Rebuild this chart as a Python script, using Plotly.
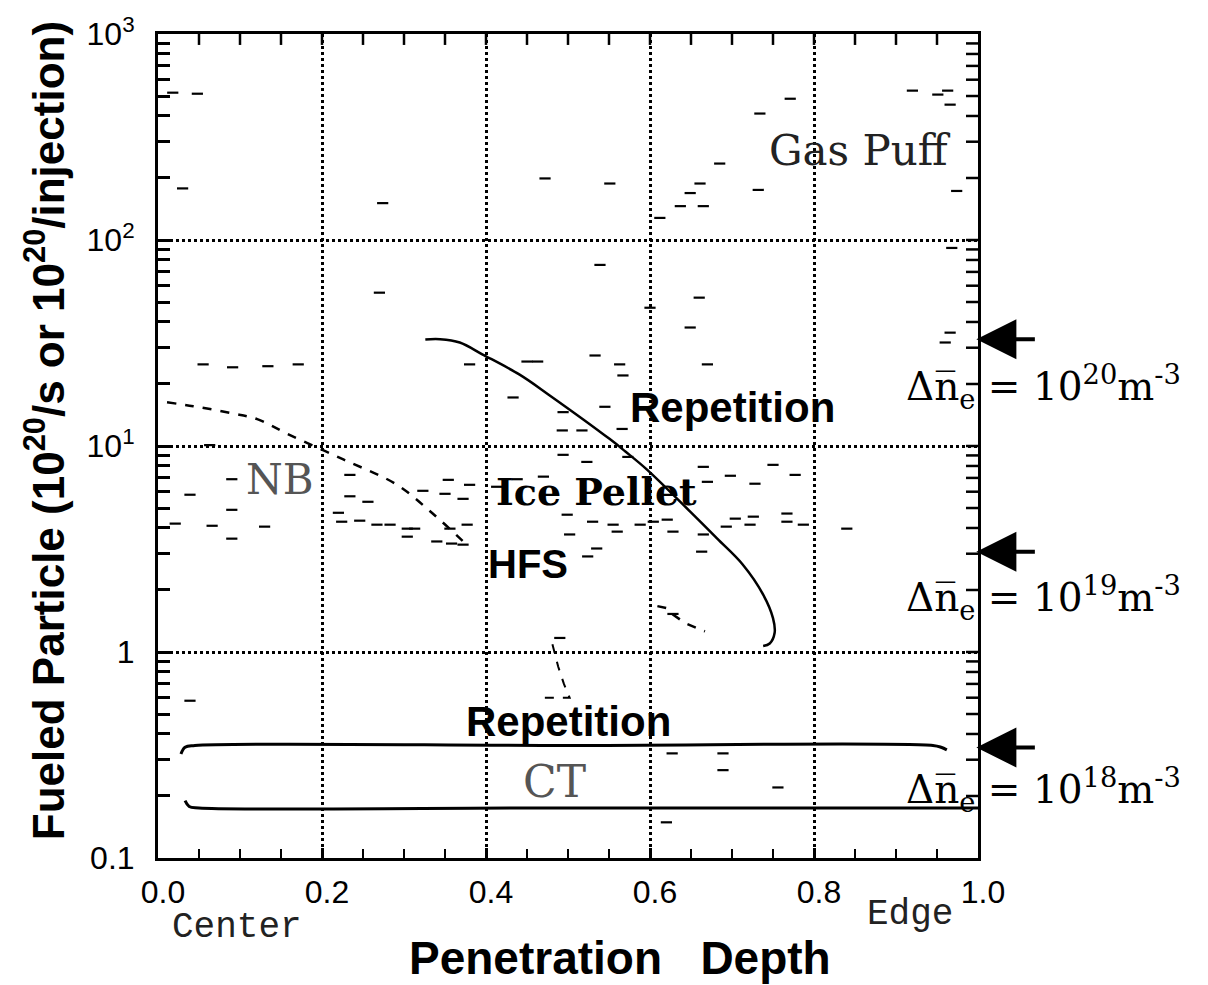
import math
import plotly.graph_objects as go

# ---------------- data ----------------
rep_x = [0.326, 0.344, 0.368, 0.396, 0.441, 0.476, 0.551, 0.570, 0.596, 0.649, 0.682, 0.713, 0.738, 0.750, 0.752, 0.746, 0.738]
rep_y = [32.9, 33.0, 31.8, 27.8, 22.2, 17.8, 10.8, 9.4, 7.7, 4.8, 3.55, 2.66, 1.9, 1.46, 1.24, 1.10, 1.07]

nb_x = [0.011, 0.043, 0.091, 0.121, 0.161, 0.226, 0.291, 0.335, 0.377]
nb_y = [16.3, 15.6, 14.4, 13.5, 11.3, 8.6, 6.5, 4.7, 3.3]

hfs_x = [0.609, 0.621, 0.627, 0.643, 0.667]
hfs_y = [1.67, 1.63, 1.53, 1.38, 1.26]

hfsrep_x = [0.481, 0.488, 0.495, 0.502, 0.461]
hfsrep_y = [1.09, 0.85, 0.70, 0.60, 0.60]

ct_top_x = [0.028, 0.033, 0.045, 0.50, 0.945, 0.955, 0.962]
ct_top_y = [0.32, 0.345, 0.352, 0.352, 0.352, 0.345, 0.335]
ct_bot_x = [0.033, 0.038, 0.050, 0.50, 1.0]
ct_bot_y = [0.19, 0.178, 0.175, 0.175, 0.175]

noise_x = [0.090, 0.039, 0.090, 0.021, 0.066, 0.130, 0.090, 0.055, 0.091, 0.134, 0.171, 0.063,
           0.234, 0.256, 0.234, 0.220, 0.224, 0.246, 0.267, 0.283, 0.304, 0.313, 0.304, 0.323,
           0.350, 0.354, 0.380, 0.372, 0.340, 0.358, 0.372, 0.356, 0.377, 0.380, 0.450, 0.463,
           0.433, 0.413, 0.438, 0.470, 0.533, 0.563, 0.567, 0.670, 0.545, 0.494, 0.493, 0.517,
           0.566, 0.494, 0.523, 0.573, 0.665, 0.698, 0.728, 0.750, 0.777, 0.670, 0.704, 0.726,
           0.722, 0.693, 0.767, 0.767, 0.787, 0.840, 0.665, 0.663, 0.524, 0.535, 0.502, 0.530,
           0.499, 0.628, 0.621, 0.604, 0.588, 0.560, 0.555, 0.490,
           0.018, 0.048, 0.920, 0.951, 0.963, 0.966, 0.030, 0.274, 0.472, 0.551, 0.612, 0.637,
           0.649, 0.661, 0.685, 0.734, 0.771, 0.539, 0.270, 0.660, 0.600, 0.649, 0.960, 0.966,
           0.732, 0.665, 0.974, 0.968,
           0.627, 0.689, 0.689, 0.756, 0.620, 0.628, 0.039]
noise_y = [6.9, 5.8, 4.9, 4.2, 4.1, 4.06, 3.55, 24.9, 24.1, 24.4, 24.9, 10.1,
           7.24, 5.36, 5.7, 4.74, 4.29, 4.34, 4.15, 4.15, 3.97, 3.97, 3.63, 6.06,
           5.86, 6.85, 6.48, 5.54, 3.44, 3.36, 3.32, 3.97, 4.15, 24.9, 25.7, 25.7,
           17.2, 6.34, 6.9, 7.1, 27.5, 24.9, 22.0, 24.9, 15.5, 14.6, 11.9, 11.9,
           12.1, 9.06, 8.37, 8.85, 7.92, 7.17, 6.56, 8.1, 7.24, 6.7, 4.44, 4.54,
           4.15, 4.06, 4.7, 4.29, 4.15, 3.97, 3.72, 3.07, 2.91, 3.18, 3.72, 4.29,
           4.64, 3.84, 4.39, 4.29, 4.15, 3.84, 4.15, 1.17,
           519, 513, 531, 508, 531, 454, 178, 151, 199, 188, 128, 146,
           169, 188, 235, 411, 485, 75.7, 55.5, 52.5, 46.9, 37.6, 31.8, 35.5,
           175, 146, 173, 91.5,
           0.322, 0.322, 0.267, 0.22, 0.149, 1.53, 0.58]

x_tickvals = [0.0, 0.2, 0.4, 0.6, 0.8, 1.0]
x_ticktext = ["0.0", "0.2", "0.4", "0.6", "0.8", "1.0"]
y_tickvals = [0.1, 1, 10, 100, 1000]
y_ticktext = ["0.1", "1", "10<sup>1</sup>", "10<sup>2</sup>", "10<sup>3</sup>"]

# in-plot labels: (text, x, y, font family, size, color)
labels = [
    ("Gas Puff", 0.856, 272, "DejaVu Serif", 42, "#222"),
    ("<b>Repetition</b>", 0.701, 15.4, "Liberation Sans", 42, "black"),
    ("<b>Ice Pellet</b>", 0.535, 6.0, "DejaVu Serif", 38, "black"),
    ("<b>HFS</b>", 0.451, 2.66, "Liberation Sans", 40, "black"),
    ("NB", 0.149, 6.85, "DejaVu Serif", 42, "#555"),
    ("<b>Repetition</b>", 0.500, 0.46, "Liberation Sans", 42, "black"),
    ("CT", 0.484, 0.235, "DejaVu Serif", 44, "#555"),
]

# density markers on the right: (arrow y, label y, exponent)
dens_arrow_y = [33.0, 3.07, 0.344]
dens_label_y = [19.3, 1.82, 0.213]
dens_exp = ["20", "19", "18"]

# ---------------- figure ----------------
fig = go.Figure()

fig.add_trace(go.Scatter(x=rep_x, y=rep_y, mode="lines", line=dict(color="black", width=2.5, shape="spline"), hoverinfo="skip"))
fig.add_trace(go.Scatter(x=nb_x, y=nb_y, mode="lines", line=dict(color="black", width=2.5, dash="dash", shape="spline"), hoverinfo="skip"))
fig.add_trace(go.Scatter(x=hfs_x, y=hfs_y, mode="lines", line=dict(color="black", width=2.5, dash="dash"), hoverinfo="skip"))
fig.add_trace(go.Scatter(x=hfsrep_x, y=hfsrep_y, mode="lines", line=dict(color="black", width=2, dash="dash"), hoverinfo="skip"))
fig.add_trace(go.Scatter(x=ct_top_x, y=ct_top_y, mode="lines", line=dict(color="black", width=3, shape="spline"), hoverinfo="skip"))
fig.add_trace(go.Scatter(x=ct_bot_x, y=ct_bot_y, mode="lines", line=dict(color="black", width=3, shape="spline"), hoverinfo="skip"))
fig.add_trace(go.Scatter(x=noise_x, y=noise_y, mode="markers",
                         marker=dict(symbol="line-ew-open", size=8, color="black",
                                     line=dict(color="black", width=2.2)),
                         hoverinfo="skip"))

for text, x, y, fam, size, col in labels:
    fig.add_annotation(x=x, y=math.log10(y), xref="x", yref="y", text=text, showarrow=False,
                       font=dict(family=fam, size=size, color=col),
                       xanchor="center", yanchor="middle")

for ay_val, ly_val, ex in zip(dens_arrow_y, dens_label_y, dens_exp):
    fig.add_annotation(x=0.998, y=math.log10(ay_val), xref="paper", yref="y", text="",
                       showarrow=True, ax=60, ay=0, axref="pixel", ayref="pixel",
                       arrowhead=2, arrowsize=2.0, arrowwidth=4, arrowcolor="black")
    fig.add_annotation(x=1.08, y=math.log10(ly_val), xref="paper", yref="y",
                       text="Δn\u0305<sub>e</sub> = 10<sup>" + ex + "</sup>m<sup>-3</sup>",
                       showarrow=False, font=dict(family="DejaVu Serif", size=39, color="black"),
                       xanchor="center", yanchor="middle")

# axis titles and extra labels
fig.add_annotation(x=0.563, y=-0.121, xref="paper", yref="paper", text="<b>Penetration   Depth</b>",
                   showarrow=False, font=dict(family="Liberation Sans", size=46, color="black"),
                   xanchor="center", yanchor="middle")
fig.add_annotation(x=-0.138, y=0.519, xref="paper", yref="paper",
                   text="<b>Fueled Particle (10<sup>20</sup>/s or 10<sup>20</sup>/injection)</b>",
                   textangle=-90, showarrow=False, font=dict(family="Liberation Sans", size=44, color="black"),
                   xanchor="center", yanchor="middle")
fig.add_annotation(x=0.096, y=-0.084, xref="paper", yref="paper", text="Center",
                   showarrow=False, font=dict(family="Liberation Mono", size=36, color="#222"),
                   xanchor="center", yanchor="middle")
fig.add_annotation(x=0.917, y=-0.069, xref="paper", yref="paper", text="Edge",
                   showarrow=False, font=dict(family="Liberation Mono", size=36, color="#222"),
                   xanchor="center", yanchor="middle")

minor_y = [m * 10 ** e for e in range(-1, 3) for m in range(2, 10)]
minor_x = [round(0.05 * i, 2) for i in range(1, 20) if i % 4 != 0]

# mirrored tick marks on the top and right frame edges
PLOT_W, PLOT_H = 1208 - 158 - 230, 985 - 30 - 127
for xv in minor_x + x_tickvals[1:-1]:
    fig.add_shape(type="line", xref="x", yref="paper", x0=xv, x1=xv, y0=1.0, y1=1 - 11 / PLOT_H,
                  line=dict(color="black", width=2.5), layer="above")
for yv in minor_y + y_tickvals[1:-1]:
    fig.add_shape(type="line", xref="paper", yref="y", x0=1.0, x1=1 - 12 / PLOT_W,
                  y0=yv, y1=yv,
                  line=dict(color="black", width=2.5), layer="above")

fig.update_layout(
    width=1208, height=985,
    margin=dict(l=158, r=230, t=30, b=127),
    paper_bgcolor="white", plot_bgcolor="white",
    showlegend=False,
    xaxis=dict(range=[0, 1], tickmode="array", tickvals=x_tickvals, ticktext=x_ticktext,
               ticks="inside", ticklen=10, tickwidth=2.5, tickcolor="black",
               showline=True, linecolor="black", linewidth=3, mirror=True,
               showgrid=True, gridcolor="black", gridwidth=2.5, griddash="dot",
               zeroline=False, ticklabelstandoff=4, ticklabelshift=5,
               tickfont=dict(family="Liberation Sans", size=32, color="black"),
               minor=dict(tickmode="array", tickvals=minor_x, ticks="inside", ticklen=9,
                          tickwidth=2, tickcolor="black", showgrid=False)),
    yaxis=dict(type="log", range=[-1, 3], tickmode="array", tickvals=y_tickvals, ticktext=y_ticktext,
               ticks="inside", ticklen=12, tickwidth=2.5, tickcolor="black",
               showline=True, linecolor="black", linewidth=3, mirror=True,
               showgrid=True, gridcolor="black", gridwidth=2.5, griddash="dot",
               zeroline=False, ticklabelstandoff=14,
               tickfont=dict(family="Liberation Sans", size=32, color="black"),
               minor=dict(tickmode="array", tickvals=minor_y, ticks="inside", ticklen=12,
                          tickwidth=2.5, tickcolor="black", showgrid=False)),
)

fig.write_html("out.html")
